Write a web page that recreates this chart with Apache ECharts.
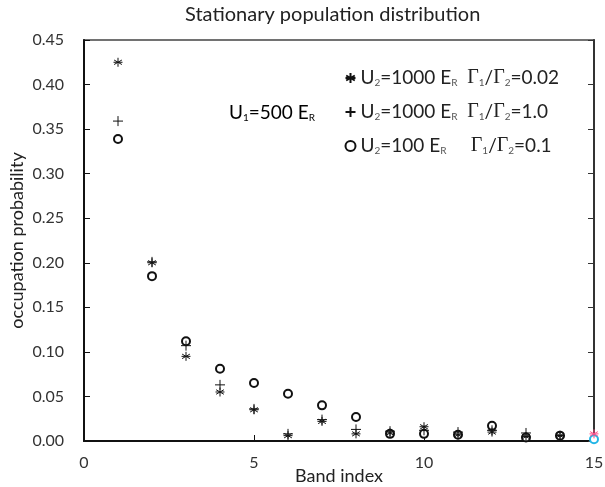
<!DOCTYPE html>
<html>
<head>
<meta charset="utf-8">
<script src="https://cdn.jsdelivr.net/npm/echarts@6/dist/echarts.min.js"></script>
<style>
html,body{margin:0;padding:0;background:#fff;}
#chart{width:605px;height:487px;}
</style>
</head>
<body>
<div id="chart"></div>
<script>
// ---- data ----
var bandIndex = [1,2,3,4,5,6,7,8,9,10,11,12,13,14];
var starValues   = [0.425,0.200,0.095,0.055,0.035,0.006,0.022,0.008,0.009,0.016,0.007,0.010,0.005,0.006];
var plusValues   = [0.359,0.201,0.107,0.063,0.036,0.008,0.024,0.013,0.011,0.012,0.010,0.012,0.009,0.006];
var circleValues = [0.339,0.185,0.112,0.081,0.065,0.053,0.040,0.027,0.008,0.008,0.007,0.017,0.004,0.006];
var edgeX = 15;
var edgeStar = 0.008;
var edgeCircle = 0.002;
var legendNames = ['s1','s2','s3'];

var FONT = 'Lato';
var starPath = 'path://M0,-5L0,5M-4.3,-2.5L4.3,2.5M-4.3,2.5L4.3,-2.5M-5,0L5,0';
var plusPath = 'path://M0,-5L0,5M-5,0L5,0';

function pairs(xs, ys){ return xs.map(function(x,i){return [x, ys[i]];}); }

var richStyles = {
  n:{fontFamily:FONT,fontSize:19,color:'#222',lineHeight:24},
  s:{fontFamily:FONT,fontSize:10,color:'#555',lineHeight:24,padding:[10,0,0,0]},
  g:{fontFamily:'Liberation Serif',fontSize:20,color:'#222',lineHeight:24}
};
var legendTexts = {
  s1:'{n|U}{s|2}{n|=1000 E}{s|R}{n|  }{g|Γ}{s|1}{n|/}{g|Γ}{s|2}{n|=0.02}',
  s2:'{n|U}{s|2}{n|=1000 E}{s|R}{n|  }{g|Γ}{s|1}{n|/}{g|Γ}{s|2}{n|=1.0}',
  s3:'{n|U}{s|2}{n|=100 E}{s|R}{n|     }{g|Γ}{s|1}{n|/}{g|Γ}{s|2}{n|=0.1}'
};

var chart = echarts.init(document.getElementById('chart'));
var starData = pairs(bandIndex, starValues);
starData.push({value:[edgeX, edgeStar], itemStyle:{borderColor:'#ff4d88'}});
var circleData = pairs(bandIndex, circleValues);
circleData.push({value:[edgeX, edgeCircle], itemStyle:{color:'#22b5e6',borderColor:'#22b5e6'}});

chart.setOption({
  animation:false,
  backgroundColor:'#fff',
  textStyle:{fontFamily:FONT},
  title:{
    text:'Stationary population distribution',
    left:180, top:0,
    textStyle:{fontFamily:FONT,fontSize:20,fontWeight:'normal',color:'#222'}
  },
  grid:{left:84,right:11,top:40,bottom:46,containLabel:false,outerBoundsMode:'none',
    show:true,borderColor:'#444444',borderWidth:1.5,backgroundColor:'rgba(255,255,255,0)'},
  legend:{
    orient:'vertical',
    left:338, top:63,
    itemGap:14,
    itemWidth:10, itemHeight:10,
    data:legendNames,
    formatter:function(n){return legendTexts[n];},
    textStyle:{rich:richStyles}
  },
  xAxis:[{
    type:'value', min:0, max:15, interval:5,
    name:'Band index', nameLocation:'middle', nameGap:26, nameMoveOverlap:false,
    nameTextStyle:{fontFamily:FONT,fontSize:18,color:'#222'},
    axisLine:{show:true,onZero:false,lineStyle:{color:'#111111',width:2}},
    axisTick:{show:true,inside:true,length:6,lineStyle:{color:'#111111',width:1}},
    axisLabel:{margin:14,fontSize:16,color:'#333',fontFamily:FONT},
    splitLine:{show:false}
  }],
  yAxis:[{
    type:'value', min:0, max:0.45, interval:0.05,
    name:'occupation probability', nameLocation:'middle', nameGap:58, nameMoveOverlap:false,
    nameTextStyle:{fontFamily:FONT,fontSize:18,color:'#222'},
    axisLine:{show:true,onZero:false,lineStyle:{color:'#111111',width:2}},
    axisTick:{show:true,inside:true,length:6,lineStyle:{color:'#111111',width:1}},
    axisLabel:{margin:20,fontSize:16,color:'#333',fontFamily:FONT,
      formatter:function(v){return v.toFixed(2);}},
    splitLine:{show:false}
  },{
    type:'value', min:0, max:0.45, interval:0.05, position:'right',
    axisLine:{show:true,onZero:false,lineStyle:{color:'#333333',width:2}},
    axisTick:{show:true,inside:true,length:6,lineStyle:{color:'#333333',width:1}},
    axisLabel:{show:false}, splitLine:{show:false}
  }],
  graphic:[{
    type:'text', left:229, top:103,
    style:{rich:richStyles,text:'{n|U}{s|1}{n|=500 E}{s|R}'}
  }],
  series:[{
    name:'s1', type:'scatter', symbol:starPath, symbolSize:9,
    itemStyle:{color:'none',borderColor:'#111',borderWidth:1,opacity:1},
    data:starData, z:3
  },{
    name:'s2', type:'scatter', symbol:plusPath, symbolSize:10,
    itemStyle:{color:'none',borderColor:'#111',borderWidth:1,opacity:1},
    data:pairs(bandIndex, plusValues), z:2
  },{
    name:'s3', type:'scatter', symbol:'emptyCircle', symbolSize:8,
    itemStyle:{color:'#111',borderColor:'#111',borderWidth:1,opacity:1},
    data:circleData, z:1
  }]
});
</script>
</body>
</html>
